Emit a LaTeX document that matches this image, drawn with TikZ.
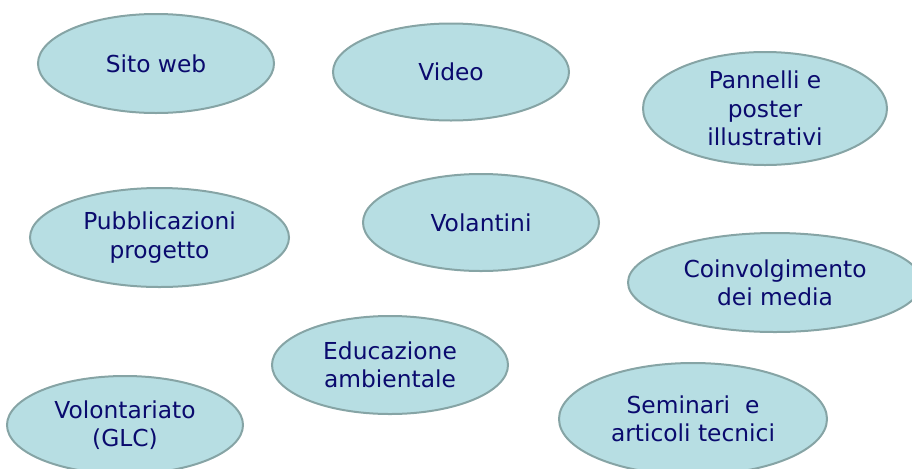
\documentclass[tikz,border=0pt]{standalone}
\usepackage{fontspec}
\setmainfont{DejaVu Sans}
\usepackage{xcolor}
\usepackage{tikz}
\usetikzlibrary{shapes.geometric}
\definecolor{bubblefill}{RGB}{183,222,227}
\definecolor{bubbleline}{RGB}{134,164,165}
\definecolor{navy}{RGB}{10,10,110}
\tikzset{
  bubble/.style 2 args={
    ellipse, draw=bubbleline, fill=bubblefill, line width=1.5pt,
    inner sep=0pt, align=center, text=navy,
    minimum width=#1*0.75pt, minimum height=#2*0.75pt,
    font=\fontsize{17.5}{21.3}\selectfont
  }
}

\begin{document}
\begin{tikzpicture}[x=0.75pt,y=-0.75pt]
    \useasboundingbox (0,0) rectangle (912,468);
    \clip (0,0) rectangle (912,468);
    \node[bubble={236}{99}] (sito) at (156,63.5) {Sito web};
    \node[bubble={236}{97}] (video) at (451,72) {Video};
    \node[bubble={244}{113}] (pannelli) at (765,108.5) {Pannelli e\\poster\\illustrativi};
    \node[bubble={259}{99}] (pubblicazioni) at (159.5,237.5) {Pubblicazioni\\progetto};
    \node[bubble={236}{97}] (volantini) at (481,222.5) {Volantini};
    \node[bubble={294}{99}] (media) at (775,282.5) {Coinvolgimento\\dei media};
    \node[bubble={236}{98}] (educazione) at (390,365) {Educazione\\ambientale};
    \node[bubble={236}{98}] (volontariato) at (125,425) {Volontariato\\(GLC)};
    \node[bubble={268}{112}] (seminari) at (693,419) {Seminari~~e\\articoli tecnici};
\end{tikzpicture}
\end{document}
